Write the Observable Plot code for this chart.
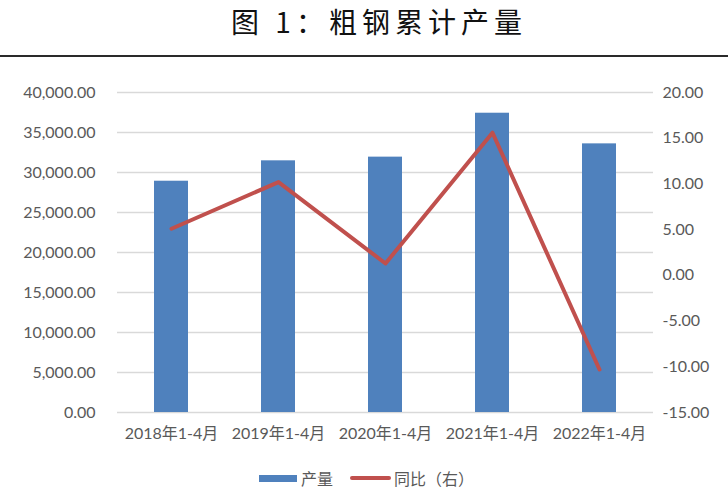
<!DOCTYPE html>
<html>
<head>
<meta charset="utf-8">
<script src="https://cdn.jsdelivr.net/npm/d3@7"></script>
<script src="https://cdn.jsdelivr.net/npm/@observablehq/plot@0.6"></script>
<style>
  html, body { margin: 0; padding: 0; background: #fff; }
  #wrap { position: relative; width: 728px; height: 501px; overflow: hidden; font-family: Lato, "Noto Sans CJK SC", sans-serif; }
  #title { position: absolute; top: 0; left: 0; width: 728px; text-align: center; font-family: "Noto Sans CJK SC", serif; font-size: 28px; letter-spacing: 5px; line-height: 42px; color: #111; padding-left: 30px; box-sizing: border-box; }
  #rule { position: absolute; top: 55px; left: 0; width: 728px; height: 2px; background: #2a2a2a; }
  #chart { position: absolute; top: 60px; left: 0; }
  #legend { position: absolute; top: 466px; left: 259px; display: flex; align-items: center; font-size: 16px; color: #595959; font-family: "Noto Sans CJK SC", sans-serif; height: 24px; }
  .sw-bar { width: 38px; height: 7px; background: #4f81bd; margin-right: 4px; }
  .sw-line { width: 41px; height: 4px; border-radius: 2px; background: #c0504d; margin-left: 17px; margin-right: 3px; }
</style>
</head>
<body>
<div id="wrap">
  <div id="title">图 1：粗钢累计产量</div>
  <div id="rule"></div>
  <div id="chart"></div>
  <div id="legend"><div class="sw-bar"></div><span>产量</span><div class="sw-line"></div><span>同比（右）</span></div>
</div>
<script>
const categories = ["2018年1-4月", "2019年1-4月", "2020年1-4月", "2021年1-4月", "2022年1-4月"];
const output = [28910, 31460, 31920, 37410, 33580];
const yoy = [5.1, 10.2, 1.3, 15.6, -10.3];
const leftTicks = [0, 5000, 10000, 15000, 20000, 25000, 30000, 35000, 40000];
const rightTicks = [-15, -10, -5, 0, 5, 10, 15, 20];

const leftMax = 40000, rMin = -15, rMax = 20;
const toLeft = v => (v - rMin) / (rMax - rMin) * leftMax;
const fromLeft = y => y / leftMax * (rMax - rMin) + rMin;

const data = categories.map((c, i) => ({ cat: c, output: output[i], yoy: toLeft(yoy[i]) }));

const fmtLeft = d3.format(",.2f");
const fmtRight = v => v.toFixed(2);

const chart = Plot.plot({
  width: 728,
  height: 390,
  marginTop: 32,
  marginBottom: 38,
  marginLeft: 117,
  marginRight: 75,
  style: { fontFamily: 'Lato, "Noto Sans CJK SC", sans-serif', fontSize: "16px", color: "#595959", background: "#fff" },
  x: { domain: categories, paddingInner: 0.683, paddingOuter: 0.3415, label: null },
  y: { domain: [0, leftMax], label: null },
  marks: [
    Plot.gridY(leftTicks, { stroke: "#d9d9d9", strokeOpacity: 1, strokeWidth: 1.5 }),
    Plot.barY(data, { x: "cat", y: "output", fill: "#4f81bd" }),
    Plot.lineY(data, { x: "cat", y: "yoy", stroke: "#c0504d", strokeWidth: 4, strokeLinejoin: "round", strokeLinecap: "round" }),
    Plot.axisY(leftTicks, { anchor: "left", tickSize: 0, tickPadding: 22, tickFormat: fmtLeft, label: null, fill: "#595959" }),
    Plot.axisY(rightTicks.map(toLeft), { anchor: "right", tickSize: 0, tickPadding: 9, tickFormat: d => fmtRight(fromLeft(d)), label: null, fill: "#595959" }),
    Plot.axisX({ tickSize: 0, tickPadding: 15, label: null, fill: "#595959" })
  ]
});
document.getElementById("chart").appendChild(chart);
</script>
</body>
</html>
